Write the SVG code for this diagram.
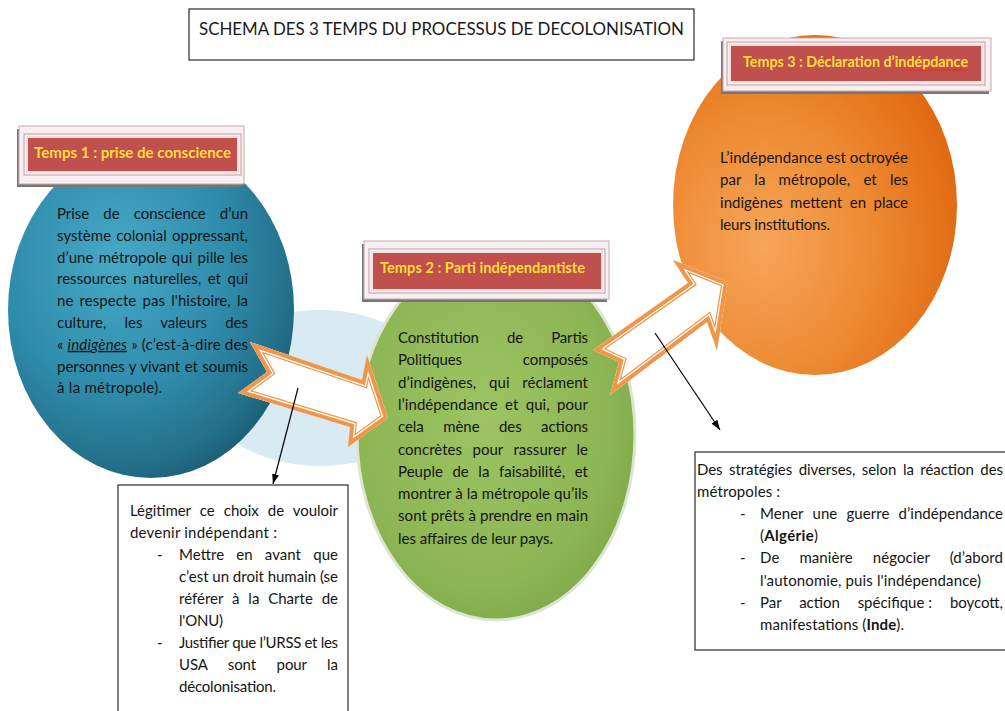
<svg xmlns="http://www.w3.org/2000/svg" xmlns:xlink="http://www.w3.org/1999/xlink" width="1005" height="711" viewBox="0 0 1005 711">
<style>
.t{font-family:Lato,"Open Sans","Liberation Sans",sans-serif;font-size:15px;fill:#151515}
.lbl{font-family:Lato,"Open Sans","Liberation Sans",sans-serif;font-size:15px;font-weight:700;fill:#ffdc3c}
.ttl{font-family:Lato,"Open Sans","Liberation Sans",sans-serif;font-size:18px;fill:#1a1a1a}
.box{fill:#fff;stroke:#2a2a2a;stroke-width:1.2}
.shadow{fill:#767676}
.frame{fill:#f8eff0;stroke:#c7a9ae;stroke-width:1}
.red{fill:#c0504d;stroke:#f4dfe0;stroke-width:2}
.inner{fill:none;stroke:#c49ca2;stroke-width:1}
.aw{fill:#fff;stroke:#ef9549;stroke-width:13}
.ag{fill:none;stroke:#fff;stroke-width:10.5}
.ao{fill:none;stroke:#f0964a;stroke-width:8}
.lead{stroke:#000;stroke-width:1.2;fill:none}
</style>
<defs>
<radialGradient id="gBlue" cx="0.38" cy="0.35" r="0.72">
<stop offset="0" stop-color="#47a9c7"/>
<stop offset="0.55" stop-color="#2f8bab"/>
<stop offset="0.85" stop-color="#23708a"/>
<stop offset="1" stop-color="#1b5a70"/>
</radialGradient>
<radialGradient id="gGreen" cx="0.45" cy="0.45" r="0.65">
<stop offset="0" stop-color="#9ec463"/>
<stop offset="0.7" stop-color="#8cb553"/>
<stop offset="1" stop-color="#7ca646"/>
</radialGradient>
<radialGradient id="gOrange" cx="0.32" cy="0.62" r="0.75">
<stop offset="0" stop-color="#f6a65a"/>
<stop offset="0.5" stop-color="#ee8a33"/>
<stop offset="1" stop-color="#de660e"/>
</radialGradient>
<polygon id="arrA" points="250,342 362,380 367,355 388,418 348,447 350,427 238,393 267,372"/>
<polygon id="arrB" points="593,350 688,283 673,260 728,282 717,350 707,322 610,395 619,362"/>
<clipPath id="clipA"><use xlink:href="#arrA"/></clipPath>
<clipPath id="clipB"><use xlink:href="#arrB"/></clipPath>
<marker id="head" markerWidth="10" markerHeight="7" refX="10" refY="3.5" orient="auto" markerUnits="userSpaceOnUse">
<path d="M0,0 L10,3.5 L0,7 Z" fill="#000"/>
</marker>
</defs>
<rect width="1005" height="711" fill="#fff"/>

<g id="halo">
<ellipse cx="320" cy="388" rx="118" ry="78" fill="#d9ebf2"/>
</g>

<g id="node-title">
<rect x="189" y="9" width="505" height="51" class="box"/>
<text class="ttl" x="199" y="35" textLength="485" lengthAdjust="spacingAndGlyphs">SCHEMA DES 3 TEMPS DU PROCESSUS DE DECOLONISATION</text>
</g>

<g id="node-temps1">
<ellipse cx="151" cy="310" rx="143" ry="168" fill="url(#gBlue)"/>
<rect x="17" y="129" width="225" height="58" class="shadow"/>
<rect x="19" y="126" width="225" height="58" class="frame"/>
<rect x="24" y="134" width="217" height="41" class="inner"/>
<rect x="27" y="137" width="211" height="35" class="red"/>
<text class="lbl" x="34" y="158" textLength="197" lengthAdjust="spacingAndGlyphs">Temps 1 : prise de conscience</text>
<g class="t">
<text x="57" y="219" textLength="191" lengthAdjust="spacing" style="word-spacing:10.5px">Prise de conscience d’un</text>
<text x="57" y="240.8" textLength="191" lengthAdjust="spacing" style="word-spacing:1.2px">système colonial oppressant,</text>
<text x="57" y="262.6" textLength="191" lengthAdjust="spacing" style="word-spacing:1.3px">d’une métropole qui pille les</text>
<text x="57" y="284.4" textLength="191" lengthAdjust="spacing" style="word-spacing:2.7px">ressources naturelles, et qui</text>
<text x="57" y="306.2" textLength="191" lengthAdjust="spacing" style="word-spacing:2.3px">ne respecte pas l'histoire, la</text>
<text x="57" y="328" textLength="191" lengthAdjust="spacing" style="word-spacing:14.2px">culture, les valeurs des</text>
<text x="57" y="349.8" textLength="191" lengthAdjust="spacing">« <tspan font-style="italic" text-decoration="underline">indigènes</tspan> » (c’est-à-dire des</text>
<text x="57" y="371.6" textLength="191" lengthAdjust="spacing" style="word-spacing:0.7px">personnes y vivant et soumis</text>
<text x="57" y="393.4" textLength="105" lengthAdjust="spacing">à la métropole).</text>
</g>
</g>

<g id="node-temps2">
<ellipse cx="496" cy="435" rx="139" ry="185" fill="url(#gGreen)" stroke="#dde5d2" stroke-width="3"/>
<rect x="362" y="244" width="245" height="58" class="shadow"/>
<rect x="364" y="241" width="245" height="58" class="frame"/>
<rect x="369" y="249" width="236" height="44" class="inner"/>
<rect x="372" y="252" width="230" height="38" class="red"/>
<text class="lbl" x="380" y="273" textLength="205" lengthAdjust="spacingAndGlyphs">Temps 2 : Parti indépendantiste</text>
<g class="t">
<text x="398" y="343" textLength="190" lengthAdjust="spacing" style="word-spacing:24.5px">Constitution de Partis</text>
<text x="398" y="365.3" textLength="190" lengthAdjust="spacing" style="word-spacing:57px">Politiques composés</text>
<text x="398" y="387.6" textLength="190" lengthAdjust="spacing" style="word-spacing:8.7px">d’indigènes, qui réclament</text>
<text x="398" y="409.9" textLength="190" lengthAdjust="spacing" style="word-spacing:3.5px">l’indépendance et qui, pour</text>
<text x="398" y="432.2" textLength="190" lengthAdjust="spacing" style="word-spacing:15.6px">cela mène des actions</text>
<text x="398" y="454.5" textLength="190" lengthAdjust="spacing" style="word-spacing:6.6px">concrètes pour rassurer le</text>
<text x="398" y="476.8" textLength="190" lengthAdjust="spacing" style="word-spacing:5.7px">Peuple de la faisabilité, et</text>
<text x="398" y="499.1" textLength="190" lengthAdjust="spacing">montrer à la métropole qu’ils</text>
<text x="398" y="521.4" textLength="190" lengthAdjust="spacing">sont prêts à prendre en main</text>
<text x="398" y="543.7" textLength="155" lengthAdjust="spacing">les affaires de leur pays.</text>
</g>
</g>

<g id="node-temps3">
<ellipse cx="815" cy="205" rx="142" ry="170" fill="url(#gOrange)"/>
<rect x="721" y="41" width="268" height="53" class="shadow"/>
<rect x="723" y="38" width="268" height="53" class="frame"/>
<rect x="727" y="42" width="258" height="43" class="inner"/>
<rect x="730" y="45" width="252" height="37" class="red"/>
<text class="lbl" x="743" y="67" textLength="225" lengthAdjust="spacingAndGlyphs">Temps 3 : Déclaration d’indépdance</text>
<polyline points="906,71 908,69.5 910,71 912,69.5 914,71 916,69.5 918,71 920,69.5 922,71 924,69.5 926,71 928,69.5 930,71 932,69.5 934,71 936,69.5 938,71 940,69.5 942,71 944,69.5 946,71 948,69.5 950,71 952,69.5 954,71 956,69.5 958,71 960,69.5 962,71 964,69.5 966,71 968,69.5" fill="none" stroke="#e0241c" stroke-width="0.8"/>
<g class="t">
<text x="720" y="163" textLength="188" lengthAdjust="spacing">L’indépendance est octroyée</text>
<text x="720" y="185.3" textLength="188" lengthAdjust="spacing" style="word-spacing:9.2px">par la métropole, et les</text>
<text x="720" y="207.6" textLength="188" lengthAdjust="spacing" style="word-spacing:3.6px">indigènes mettent en place</text>
<text x="720" y="229.9" textLength="110" lengthAdjust="spacing">leurs institutions.</text>
</g>
</g>

<g id="node-box-legitimer">
<rect x="118" y="485" width="230" height="240" class="box"/>
<g class="t">
<text x="130" y="516" textLength="208" lengthAdjust="spacing" style="word-spacing:5.4px">Légitimer ce choix de vouloir</text>
<text x="130" y="538" textLength="147" lengthAdjust="spacing">devenir indépendant :</text>
<text x="157" y="560">-</text>
<text x="179" y="560" textLength="159" lengthAdjust="spacing" style="word-spacing:8.3px">Mettre en avant que</text>
<text x="179" y="582" textLength="159" lengthAdjust="spacing">c’est un droit humain (se</text>
<text x="179" y="604" textLength="159" lengthAdjust="spacing" style="word-spacing:5px">référer à la Charte de</text>
<text x="179" y="626" textLength="44" lengthAdjust="spacing">l'ONU)</text>
<text x="157" y="648">-</text>
<text x="179" y="648" textLength="159" lengthAdjust="spacing">Justifier que l’URSS et les</text>
<text x="179" y="670" textLength="159" lengthAdjust="spacing" style="word-spacing:16.8px">USA sont pour la</text>
<text x="179" y="692" textLength="97" lengthAdjust="spacing">décolonisation.</text>
</g>
</g>

<g id="node-box-strategies">
<rect x="695" y="452" width="320" height="198" class="box"/>
<g class="t">
<text x="697" y="475" textLength="306" lengthAdjust="spacing" style="word-spacing:2.8px">Des stratégies diverses, selon la réaction des</text>
<text x="697" y="497.1" textLength="83" lengthAdjust="spacing">métropoles :</text>
<text x="740" y="519.2">-</text>
<text x="760" y="519.2" textLength="243" lengthAdjust="spacing" style="word-spacing:5.3px">Mener une guerre d’indépendance</text>
<text x="760" y="541.3" textLength="58" lengthAdjust="spacing">(<tspan font-weight="700">Algérie</tspan>)</text>
<text x="740" y="563.4">-</text>
<text x="760" y="563.4" textLength="243" lengthAdjust="spacing" style="word-spacing:16.1px">De manière négocier (d’abord</text>
<text x="760" y="585.5" textLength="221" lengthAdjust="spacing">l'autonomie, puis l'indépendance)</text>
<text x="740" y="607.6">-</text>
<text x="760" y="607.6" textLength="243" lengthAdjust="spacing" style="word-spacing:14px">Par action spécifique<tspan dx="4">:</tspan> boycott,</text>
<text x="760" y="629.7" textLength="144" lengthAdjust="spacing">manifestations (<tspan font-weight="700">Inde</tspan>).</text>
</g>
</g>

<g id="connectors">
<g id="arrow-1-2" clip-path="url(#clipA)">
<use xlink:href="#arrA" class="aw"/>
<use xlink:href="#arrA" class="ag"/>
<use xlink:href="#arrA" class="ao"/>
</g>
<g id="arrow-2-3" clip-path="url(#clipB)">
<use xlink:href="#arrB" class="aw"/>
<use xlink:href="#arrB" class="ag"/>
<use xlink:href="#arrB" class="ao"/>
</g>
<line id="lead-1" x1="298" y1="388" x2="273" y2="484" class="lead" marker-end="url(#head)"/>
<line id="lead-2" x1="655" y1="333" x2="720" y2="430" class="lead" marker-end="url(#head)"/>
</g>
</svg>
